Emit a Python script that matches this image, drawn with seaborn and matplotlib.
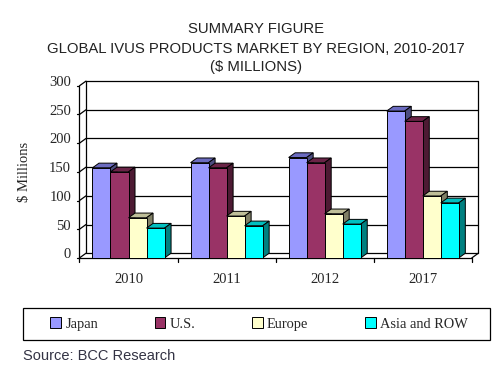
import matplotlib
matplotlib.use('Agg')
import matplotlib.pyplot as plt
import matplotlib.transforms as mtrans
from matplotlib.patches import Polygon, Rectangle
import seaborn as sns
import pandas as pd
import numpy as np

years = ['2010', '2011', '2012', '2017']
regions = ['Japan', 'U.S.', 'Europe', 'Asia and ROW']
japan = [157, 166, 175, 256]
us = [150, 157, 166, 238]
europe = [70, 73, 77, 108]
asia_row = [52, 56, 59, 96]
yticks = [0, 50, 100, 150, 200, 250, 300]

front_cols = ['#9999FF', '#993366', '#FFFFCC', '#00FFFF']
top_cols = ['#6B6BBF', '#6B2447', '#BFBF99', '#00BFBF']
side_cols = ['#4D4D80', '#4D1A33', '#808066', '#008080']

df = pd.DataFrame({
    'year': np.repeat(years, 4),
    'region': regions * 4,
    'value': np.ravel(np.column_stack([japan, us, europe, asia_row])),
})

sns.set_style('white')
fig = plt.figure(figsize=(5.03, 3.69), dpi=100)
ax = fig.add_axes([0.158, 0.301, 0.78, 0.4665])

sns.barplot(data=df, x='year', y='value', hue='region', hue_order=regions,
            palette=front_cols, width=0.735, gap=0, saturation=1,
            edgecolor='black', linewidth=0.7, legend=False, ax=ax, errorbar=None)

ax.set_xlim(-0.5, 3.5)
ax.set_ylim(0, 300)
for s in ax.spines.values():
    s.set_visible(False)

# depth offset in data units (about 6.5 px right, 4.7 px up)
dx = 6.5 / 98.0
dy = 4.7 / (172.0 / 300)

lk = dict(color='black', lw=0.9, clip_on=False)
# back wall + gridlines
for t in yticks:
    ax.plot([-0.5 + dx, 3.5 + dx], [t + dy, t + dy], zorder=0.5, **lk)
    ax.plot([-0.5, -0.5 + dx], [t, t + dy], zorder=0.5, **lk)
    ax.plot([-0.5 - 0.025, -0.5], [t, t], zorder=0.5, **lk)
ax.plot([-0.5 + dx, -0.5 + dx], [dy, 300 + dy], zorder=0.5, **lk)
ax.plot([3.5 + dx, 3.5 + dx], [dy, 300 + dy], zorder=0.5, **lk)
ax.plot([-0.5, -0.5], [0, 300], zorder=0.5, **lk)
# floor
ax.plot([-0.5, 3.5], [0, 0], zorder=0.5, **lk)
ax.plot([3.5, 3.5 + dx], [0, dy], zorder=0.5, **lk)
for b in [-0.5, 0.5, 1.5, 2.5, 3.5]:
    ax.plot([b, b], [0, -7], zorder=0.5, **lk)

# 3d faces of bars
bars = sorted(ax.patches, key=lambda p: p.get_x())
for i, p in enumerate(bars):
    fc = p.get_facecolor()
    ci = [np.allclose(fc[:3], matplotlib.colors.to_rgb(c)) for c in front_cols].index(True)
    x0, w, h = p.get_x(), p.get_width(), p.get_height()
    z = 2 + i * 0.01
    top = Polygon([[x0, h], [x0 + dx, h + dy], [x0 + w + dx, h + dy], [x0 + w, h]],
                  closed=True, facecolor=top_cols[ci], edgecolor='black', lw=0.7, zorder=z)
    side = Polygon([[x0 + w, 0], [x0 + w + dx, dy], [x0 + w + dx, h + dy], [x0 + w, h]],
                   closed=True, facecolor=side_cols[ci], edgecolor='black', lw=0.7, zorder=z)
    ax.add_patch(top)
    ax.add_patch(side)
    p.set_zorder(z + 0.005)

serif = 'Liberation Serif'
ax.set_yticks(yticks)
ax.set_yticklabels([str(t) for t in yticks], family=serif, fontsize=10.5)
ax.tick_params(axis='y', length=0, pad=6)
shift = mtrans.ScaledTranslation(0, 4.7 / 100, fig.dpi_scale_trans)
for lab in ax.get_yticklabels():
    lab.set_transform(lab.get_transform() + shift)
ax.tick_params(axis='x', length=0, pad=11)
ax.set_xticks(range(4))
ax.set_xticklabels(years, family=serif, fontsize=10.5)
ax.set_xlabel('')
ax.set_ylabel('$ Millions', family=serif, fontsize=10.5, labelpad=13)

tk = dict(ha='center', va='center', family='Liberation Sans', fontsize=10.7, color='#222222')
fig.text(0.509, 0.921, 'SUMMARY FIGURE', **tk)
fig.text(0.509, 0.867, 'GLOBAL IVUS PRODUCTS MARKET BY REGION, 2010-2017', **tk)
fig.text(0.509, 0.819, '($ MILLIONS)', **tk)

# legend box
fig.patches.append(Rectangle((0.0457, 0.0786), 0.928, 0.0867, transform=fig.transFigure,
                             facecolor='none', edgecolor='black', lw=0.9))
handles = [Rectangle((0, 0), 1, 1, facecolor=c, edgecolor='black', lw=0.7) for c in front_cols]
fig.legend(handles, regions, loc='center', ncol=4, bbox_to_anchor=(0.515, 0.122),
           frameon=False, handlelength=0.75, handleheight=0.75, handletextpad=0.3,
           columnspacing=3.9, borderaxespad=0, prop={'family': serif, 'size': 10.4})

fig.text(0.046, 0.036, 'Source: BCC Research', ha='left', va='center',
         family='Liberation Sans', fontsize=10.5, color='#333344')

fig.savefig('out.png', dpi=100)
